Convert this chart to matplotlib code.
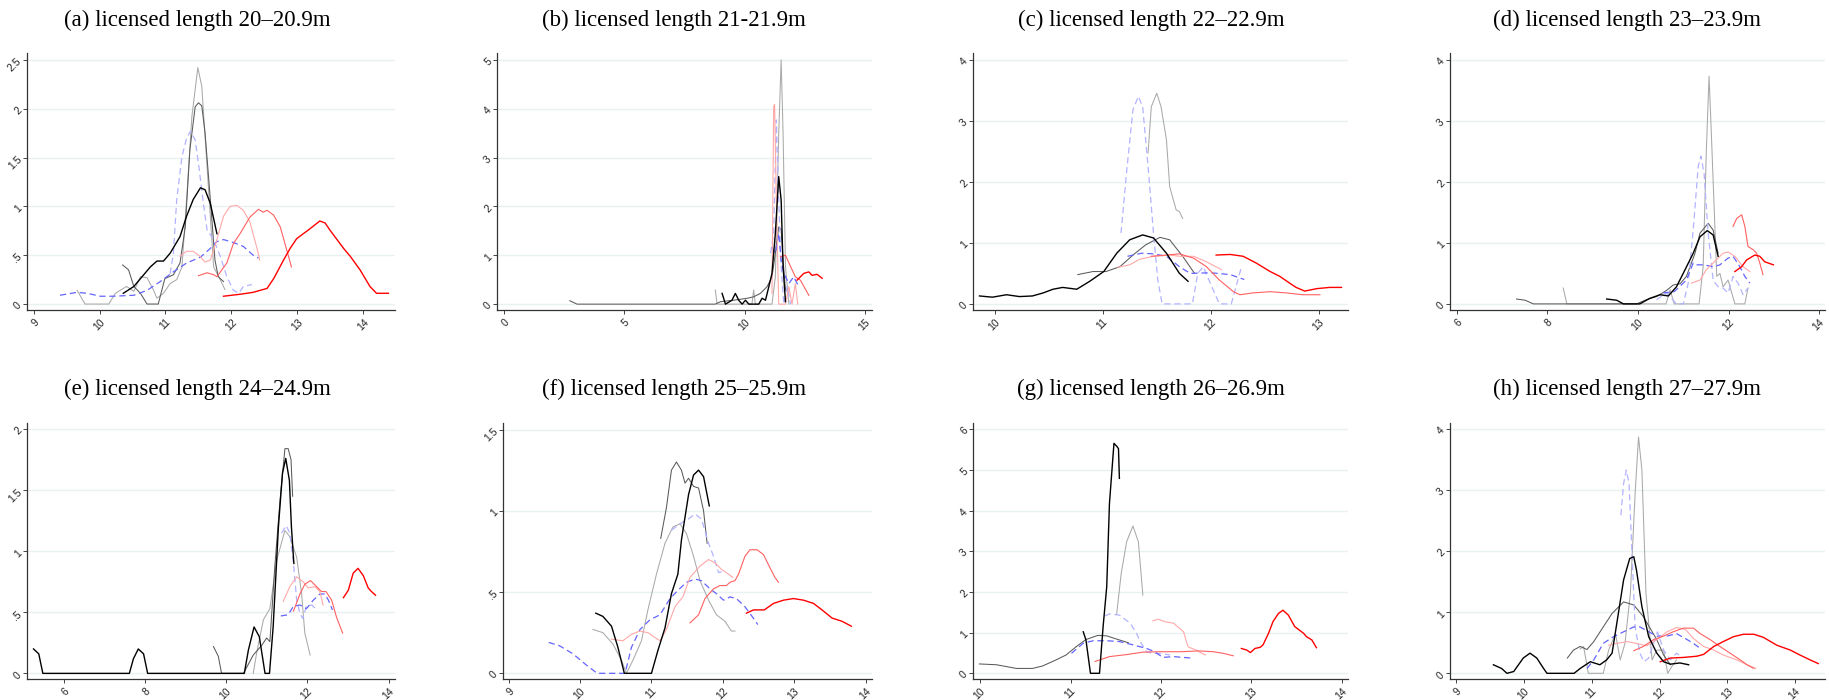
import matplotlib
matplotlib.use("Agg")
import matplotlib.pyplot as plt

# curve points (x = value, y = density), one list per line
# (a) 20-20.9m
a_red = [(11.88, .08), (12.13, .10), (12.33, .12), (12.54, .16), (12.64, .26), (12.79, .45), (12.89, .57),
         (12.99, .67), (13.17, .76), (13.34, .85), (13.42, .83), (13.49, .76), (13.70, .57), (13.80, .49),
         (13.95, .35), (14.10, .18), (14.20, .11), (14.38, .11)]
a_salmon = [(11.50, .29), (11.63, .32), (11.73, .30), (11.78, .28), (11.93, .42), (12.03, .62), (12.13, .72),
            (12.28, .89), (12.41, .97), (12.48, .94), (12.54, .96), (12.64, .91), (12.74, .79), (12.84, .55),
            (12.91, .38)]
a_pink = [(11.22, .49), (11.32, .54), (11.42, .54), (11.52, .49), (11.60, .43), (11.68, .45), (11.78, .66),
          (11.88, .90), (11.98, 1.0), (12.08, 1.01), (12.18, .96), (12.28, .84), (12.38, .59), (12.43, .45)]
a_blue = [(9.40, .09), (9.66, .12), (9.81, .11), (10.01, .08), (10.21, .08), (10.52, .09), (10.72, .14),
          (10.92, .23), (11.12, .33), (11.32, .42), (11.53, .48), (11.68, .57), (11.78, .64), (11.88, .66),
          (12.03, .63), (12.18, .59), (12.33, .50), (12.41, .47)]
a_lblue = [(11.07, .31), (11.12, .52), (11.17, 1.07), (11.25, 1.51), (11.32, 1.70), (11.38, 1.77), (11.45, 1.68),
           (11.50, 1.44), (11.58, 1.0), (11.63, .76), (11.73, .66), (11.83, .49), (11.93, .28), (12.03, .14),
           (12.11, .11), (12.18, .18), (12.31, .20)]
a_black = [(10.36, .11), (10.52, .18), (10.62, .26), (10.77, .38), (10.87, .44), (10.97, .44), (11.07, .52),
           (11.22, .69), (11.32, .90), (11.42, 1.07), (11.53, 1.19), (11.60, 1.17), (11.68, 1.03), (11.78, .72)]
a_dgray = [(10.35, .40), (10.44, .35), (10.52, .18), (10.62, .11), (10.72, 0), (10.89, 0), (10.99, .26),
           (11.12, .30), (11.22, .42), (11.30, .79), (11.37, 1.58), (11.45, 2.02), (11.50, 2.06), (11.55, 2.03),
           (11.60, 1.75), (11.68, 1.07), (11.75, .45), (11.80, .28), (11.88, .23)]
a_lgray = [(9.66, .14), (9.78, 0), (10.14, 0), (10.24, .11), (10.41, .18), (10.52, .13), (10.62, .28),
           (10.72, .27), (10.82, .14), (10.87, .06), (10.97, .11), (11.07, .21), (11.17, .25), (11.25, .38),
           (11.32, 1.07), (11.40, 1.92), (11.49, 2.42), (11.55, 2.23), (11.63, 1.41), (11.73, .38), (11.83, .25),
           (11.90, .15)]

# (b) 21-21.9m
b_dgray = [(2.74, .07), (3.04, 0), (8.78, 0), (8.99, .05), (9.54, .08), (10.10, .12), (10.37, .15), (10.65, .22),
           (10.93, .36), (11.13, .56), (11.27, 1.04), (11.41, 1.58), (11.51, 1.52), (11.59, .90), (11.69, .29)]
b_lgray = [(8.78, .29), (8.85, 0), (10.30, 0), (10.37, .29), (10.44, 0), (11.13, 0), (11.27, .56), (11.41, 3.5),
           (11.51, 5.0), (11.59, 3.5), (11.69, .77), (11.83, 0)]
b_black = [(9.06, .22), (9.20, 0), (9.47, .08), (9.61, .22), (9.75, .08), (9.89, 0), (10.03, .08), (10.17, 0),
           (10.58, 0), (10.72, .12), (10.86, .08), (11.0, .36), (11.13, .63), (11.27, 1.45), (11.41, 2.61),
           (11.51, 2.13), (11.59, .77), (11.69, .05)]
b_pink = [(11.13, .22), (11.20, 4.04), (11.24, 4.09), (11.31, 2.13), (11.41, 0), (11.69, 0), (11.83, .36),
          (11.96, 0), (12.10, .42), (12.20, 0)]
b_lblue = [(11.07, 1.04), (11.20, 1.45), (11.31, 3.77), (11.41, 2.13), (11.51, .77), (11.62, 0), (11.76, .36),
           (11.90, 0)]
b_blue = [(11.13, 1.17), (11.27, 1.04), (11.41, 1.45), (11.51, .90), (11.62, .63), (11.83, .42), (12.03, .56),
          (12.24, .36)]
b_salmon = [(11.48, .97), (11.69, 1.0), (11.90, .77), (12.10, .56), (12.31, .49), (12.66, .18)]
b_red = [(12.17, .49), (12.45, .63), (12.66, .66), (12.79, .59), (13.0, .61), (13.21, .53)]

# (c) 22-22.9m
c_black = [(9.86, .13), (9.98, .11), (10.11, .15), (10.23, .12), (10.35, .13), (10.45, .18), (10.54, .24),
           (10.63, .27), (10.76, .24), (10.88, .37), (11.01, .53), (11.13, .83), (11.25, 1.05), (11.37, 1.13),
           (11.47, 1.08), (11.59, .83), (11.71, .50), (11.79, .37)]
c_dgray = [(10.77, .48), (10.91, .53), (11.03, .53), (11.16, .61), (11.28, .80), (11.40, .97), (11.53, 1.09),
           (11.62, 1.05), (11.74, .78), (11.85, .50)]
c_lgray = [(11.42, 2.47), (11.45, 3.23), (11.50, 3.45), (11.54, 3.23), (11.59, 2.69), (11.62, 1.92),
           (11.68, 1.54), (11.71, 1.51), (11.74, 1.40)]
c_lblue = [(11.17, 1.16), (11.22, 2.14), (11.28, 3.18), (11.33, 3.40), (11.37, 3.23), (11.42, 2.25),
           (11.47, 1.16), (11.51, .39), (11.55, 0), (11.83, 0), (11.88, .50), (11.93, .61), (12.01, .28),
           (12.08, 0), (12.19, 0), (12.28, .58)]
c_blue = [(11.23, .78), (11.36, .83), (11.47, .82), (11.59, .78), (11.71, .61), (11.81, .50), (12.0, .51),
          (12.18, .48), (12.31, .40)]
c_pink = [(11.14, .60), (11.25, .64), (11.34, .73), (11.47, .78), (11.62, .80), (11.71, .78), (11.84, .78),
          (11.96, .69), (12.10, .56)]
c_salmon = [(11.45, .78), (11.59, .80), (11.71, .82), (11.84, .75), (11.96, .61), (12.08, .39), (12.21, .20),
            (12.27, .15), (12.39, .18), (12.55, .20), (12.70, .18), (12.85, .15), (13.01, .15)]
c_red = [(12.05, .80), (12.18, .81), (12.30, .78), (12.42, .67), (12.55, .53), (12.64, .45), (12.73, .34),
         (12.79, .27), (12.87, .21), (12.98, .25), (13.10, .27), (13.21, .27)]

# (d) 23-23.9m
d_dgray = [(7.32, .08), (7.51, .06), (7.69, 0), (9.97, 0), (10.19, .07), (10.41, .12), (10.63, .22),
           (10.78, .31), (10.93, .33), (11.07, .45), (11.26, .83), (11.37, 1.16), (11.55, 1.32), (11.66, 1.21),
           (11.77, .83)]
d_lgray = [(8.35, .26), (8.43, 0), (10.62, 0), (10.71, .23), (10.80, 0), (11.35, 0), (11.44, .61), (11.51, 2.52),
           (11.57, 3.73), (11.62, 2.80), (11.74, .45), (11.81, .50), (11.88, .28), (11.99, .39), (12.14, 0),
           (12.36, 0), (12.43, .26)]
d_black = [(9.31, .08), (9.53, .06), (9.68, 0), (10.04, 0), (10.26, .09), (10.49, .15), (10.67, .13),
           (10.85, .28), (11.04, .56), (11.22, .83), (11.37, 1.10), (11.53, 1.20), (11.66, 1.13), (11.77, .78)]
d_lblue = [(10.41, .07), (10.63, .18), (10.85, 0), (11.0, 0), (11.11, .34), (11.22, 1.21), (11.33, 2.25),
           (11.39, 2.42), (11.46, 2.14), (11.55, 1.16), (11.66, .39), (11.77, .28), (11.88, .26), (11.99, .18),
           (12.10, .45), (12.21, .34), (12.32, .15), (12.43, .26)]
d_blue = [(10.56, .18), (10.80, .20), (11.07, .39), (11.22, .67), (11.29, .64), (11.44, .64), (11.66, .61),
          (11.81, .64), (11.99, .75), (12.10, .78), (12.25, .61), (12.36, .45), (12.47, .34)]
d_pink = [(11.18, .34), (11.37, .39), (11.51, .56), (11.66, .67), (11.88, .83), (11.99, .85), (12.14, .78),
          (12.32, .61), (12.47, .53)]
d_salmon = [(12.10, 1.27), (12.18, 1.40), (12.29, 1.46), (12.36, 1.27), (12.43, .94), (12.54, .89),
            (12.62, .83), (12.69, .67), (12.76, .48)]
d_red = [(12.14, .53), (12.29, .61), (12.40, .72), (12.58, .80), (12.69, .78), (12.80, .69), (12.99, .64)]

# (e) 24-24.9m
e_black = [(5.26, .20), (5.39, .16), (5.49, 0), (7.62, 0), (7.72, .12), (7.84, .20), (7.97, .16), (8.07, 0),
           (10.45, 0), (10.55, .19), (10.69, .38), (10.82, .30), (10.96, 0), (11.07, 0), (11.16, .38),
           (11.29, 1.20), (11.39, 1.64), (11.47, 1.76), (11.56, 1.58), (11.61, 1.20), (11.67, .90)]
e_dgray = [(9.69, .22), (9.81, .14), (9.89, 0), (10.43, 0), (10.67, .15), (10.88, .23), (11.0, .29),
           (11.08, .26), (11.20, .87), (11.33, 1.42), (11.45, 1.84), (11.53, 1.84), (11.60, 1.75), (11.64, 1.45)]
e_lgray = [(10.67, 0), (10.75, .16), (10.92, .44), (11.08, .53), (11.25, .93), (11.45, 1.17), (11.57, 1.12),
           (11.74, .95), (11.86, .65), (11.94, .33), (12.07, .15)]
e_lblue = [(11.37, 1.15), (11.48, 1.21), (11.57, 1.15), (11.66, .90), (11.74, .60), (11.82, .49), (11.89, .45),
           (11.98, .55), (12.11, .56), (12.23, .52)]
e_blue = [(11.35, .47), (11.53, .48), (11.66, .55), (11.82, .56), (11.98, .53), (12.15, .60), (12.31, .65),
          (12.43, .65), (12.52, .60), (12.62, .52)]
e_pink = [(11.41, .59), (11.57, .71), (11.74, .79), (11.90, .75), (12.02, .70), (12.19, .71), (12.31, .67),
          (12.39, .56)]
e_salmon = [(11.66, .51), (11.82, .65), (11.94, .73), (12.08, .76), (12.23, .71), (12.35, .67), (12.46, .67),
            (12.60, .60), (12.72, .46), (12.87, .33)]
e_red = [(12.89, .62), (13.01, .68), (13.13, .82), (13.25, .86), (13.38, .80), (13.50, .70), (13.58, .67),
         (13.68, .64)]

# (f) 25-25.9m
f_black = [(10.22, .37), (10.32, .35), (10.44, .29), (10.53, .16), (10.62, 0), (11.0, 0), (11.09, .14),
           (11.19, .28), (11.28, .49), (11.37, .61), (11.42, .82), (11.52, 1.10), (11.59, 1.22), (11.66, 1.25),
           (11.73, 1.21), (11.81, 1.03)]
f_dgray = [(11.13, .83), (11.21, 1.02), (11.28, 1.25), (11.35, 1.30), (11.42, 1.25), (11.47, 1.17),
           (11.52, 1.20), (11.59, 1.15), (11.66, 1.14), (11.73, 1.0), (11.78, .80)]
f_lgray = [(10.18, .27), (10.32, .25), (10.46, .18), (10.58, .08), (10.65, 0), (10.74, .08), (10.86, .20),
           (10.95, .39), (11.07, .61), (11.19, .80), (11.30, .90), (11.40, .92), (11.49, .86), (11.59, .72),
           (11.68, .57), (11.80, .45), (11.91, .36), (12.03, .32), (12.12, .26), (12.17, .26)]
f_lblue = [(11.28, .88), (11.40, .92), (11.52, .95), (11.61, .98), (11.70, .95), (11.80, .80), (11.87, .72),
           (11.94, .62), (12.03, .63)]
f_blue = [(9.56, .19), (9.71, .17), (9.90, .12), (10.09, .05), (10.24, 0), (10.63, 0), (10.72, .16),
          (10.84, .27), (10.98, .33), (11.12, .36), (11.26, .46), (11.37, .51), (11.49, .56), (11.61, .58),
          (11.70, .57), (11.82, .52), (11.91, .49), (12.01, .45), (12.10, .47), (12.19, .46), (12.31, .41),
          (12.41, .35), (12.49, .30)]
f_pink = [(10.44, .21), (10.60, .20), (10.72, .24), (10.84, .26), (10.95, .25), (11.05, .22), (11.12, .20),
          (11.21, .27), (11.33, .41), (11.44, .47), (11.54, .59), (11.68, .66), (11.80, .70), (11.89, .68),
          (11.98, .64), (12.08, .61), (12.14, .59)]
f_salmon = [(11.54, .31), (11.66, .36), (11.75, .46), (11.87, .52), (11.96, .54), (12.05, .54), (12.10, .56),
            (12.17, .57), (12.22, .61), (12.31, .72), (12.38, .76), (12.48, .76), (12.57, .73), (12.66, .65),
            (12.73, .59), (12.78, .56)]
f_red = [(12.33, .37), (12.43, .39), (12.58, .39), (12.71, .43), (12.85, .45), (12.99, .46), (13.13, .45),
         (13.27, .43), (13.39, .39), (13.53, .34), (13.67, .32), (13.80, .29)]

# (g) 26-26.9m
g_dgray = [(9.99, .23), (10.18, .21), (10.40, .12), (10.58, .12), (10.69, .18), (10.84, .33), (10.95, .45),
           (11.06, .65), (11.17, .83), (11.30, .93), (11.40, .92), (11.51, .84), (11.64, .75)]
g_black = [(11.14, 1.02), (11.17, .82), (11.22, 0), (11.32, 0), (11.36, 1.15), (11.40, 2.13), (11.43, 4.17),
           (11.48, 5.65), (11.51, 5.58), (11.53, 5.52), (11.54, 4.79)]
g_lgray = [(11.51, 1.46), (11.56, 2.45), (11.62, 3.23), (11.69, 3.62), (11.75, 3.23), (11.80, 1.92)]
g_lblue = [(11.38, 1.41), (11.43, 1.46), (11.54, 1.43), (11.66, 1.23), (11.73, .98), (11.78, .74),
           (11.84, .53), (11.91, .49), (12.02, .48), (12.10, .45)]
g_blue = [(11.01, .49), (11.14, .74), (11.25, .80), (11.40, .80), (11.54, .78), (11.69, .70), (11.84, .61),
          (11.93, .53), (12.02, .39), (12.14, .41), (12.25, .39), (12.36, .37)]
g_pink = [(11.91, 1.29), (11.97, 1.33), (12.04, 1.27), (12.14, 1.23), (12.25, 1.02), (12.30, .65),
          (12.39, .57), (12.49, .45)]
g_salmon = [(11.27, .29), (11.43, .41), (11.62, .46), (11.80, .52), (11.99, .53), (12.21, .53), (12.43, .55),
            (12.58, .53), (12.69, .49), (12.80, .43)]
g_red = [(12.89, .61), (12.95, .57), (12.99, .51), (13.04, .61), (13.10, .64), (13.13, .70), (13.19, .98),
         (13.24, 1.27), (13.30, 1.47), (13.35, 1.55), (13.41, 1.43), (13.48, 1.15), (13.52, 1.08), (13.58, .98),
         (13.61, .90), (13.67, .82), (13.72, .63)]

# (h) 27-27.9m
h_black = [(9.55, .14), (9.67, .08), (9.75, 0), (9.85, .03), (9.99, .25), (10.09, .33), (10.19, .25),
           (10.29, .08), (10.34, 0), (10.74, 0), (10.83, .08), (10.98, .19), (11.12, .14), (11.22, .22),
           (11.30, .33), (11.37, .82), (11.47, 1.53), (11.56, 1.88), (11.62, 1.91), (11.66, 1.69), (11.74, 1.09),
           (11.84, .60), (11.96, .33), (12.06, .19), (12.16, .15), (12.30, .17), (12.43, .14)]
h_dgray = [(10.64, .25), (10.73, .38), (10.83, .44), (10.93, .39), (11.03, .52), (11.17, .76), (11.30, .98),
           (11.47, 1.17), (11.62, 1.12), (11.76, .93), (11.86, .74), (11.96, .55), (12.06, .30), (12.16, .14)]
h_lgray = [(10.83, .40), (10.88, .44), (10.95, 0), (11.17, 0), (11.25, .38), (11.35, .65), (11.42, .22),
           (11.49, .49), (11.57, 1.31), (11.64, 2.95), (11.69, 3.87), (11.74, 3.33), (11.80, 1.31), (11.89, .22),
           (11.96, .38), (12.06, .38), (12.12, 0), (12.18, .11), (12.25, .22)]
h_lblue = [(11.43, 2.59), (11.47, 3.11), (11.51, 3.33), (11.55, 3.11), (11.59, 2.07), (11.64, .76), (11.71, .33),
           (11.77, .19), (11.84, .25), (11.91, .49), (11.97, .68), (12.06, .38), (12.16, .22), (12.25, .33),
           (12.33, .27)]
h_blue = [(10.93, .08), (11.03, .22), (11.17, .49), (11.32, .60), (11.47, .68), (11.62, .76), (11.71, .76),
          (11.84, .68), (11.96, .61), (12.11, .61), (12.25, .65), (12.38, .57), (12.50, .49), (12.60, .41)]
h_pink = [(11.25, .46), (11.37, .49), (11.52, .52), (11.66, .49), (11.81, .45), (11.96, .55), (12.11, .68),
          (12.25, .75), (12.38, .72), (12.50, .57), (12.65, .44), (12.80, .38), (12.94, .30), (13.14, .22),
          (13.29, .14), (13.42, .08)]
h_salmon = [(11.62, .37), (11.76, .44), (11.91, .55), (12.06, .61), (12.20, .68), (12.35, .74), (12.50, .74),
            (12.60, .65), (12.75, .55), (12.89, .44), (13.04, .33), (13.19, .22), (13.29, .14), (13.39, .08)]
h_red = [(12.01, .19), (12.16, .25), (12.35, .26), (12.55, .28), (12.65, .31), (12.80, .44), (12.94, .52),
         (13.09, .60), (13.24, .64), (13.39, .64), (13.53, .59), (13.73, .46), (13.93, .38), (14.07, .30),
         (14.22, .22), (14.34, .16)]

titles = ["(a) licensed length 20\u201320.9m", "(b) licensed length 21-21.9m",
          "(c) licensed length 22\u201322.9m", "(d) licensed length 23\u201323.9m",
          "(e) licensed length 24\u201324.9m", "(f) licensed length 25\u201325.9m",
          "(g) licensed length 26\u201326.9m", "(h) licensed length 27\u201327.9m"]
xticks = [[9, 10, 11, 12, 13, 14], [0, 5, 10, 15], [10, 11, 12, 13], [6, 8, 10, 12, 14],
          [6, 8, 10, 12, 14], [9, 10, 11, 12, 13, 14], [10, 11, 12, 13, 14], [9, 10, 11, 12, 13, 14]]
yticks = [[0, .5, 1, 1.5, 2, 2.5], [0, 1, 2, 3, 4, 5], [0, 1, 2, 3, 4], [0, 1, 2, 3, 4],
          [0, .5, 1, 1.5, 2], [0, .5, 1, 1.5], [0, 1, 2, 3, 4, 5, 6], [0, 1, 2, 3, 4]]

# line styles (stata-ish scheme)
styles = {
    "lgray":  dict(color="#a9a9a9", lw=0.75, ls="-"),
    "dgray":  dict(color="#5a5a5a", lw=0.75, ls="-"),
    "lblue":  dict(color="#b3b3ff", lw=0.9, ls=(0, (5, 3))),
    "blue":   dict(color="#6464ff", lw=0.9, ls=(0, (5, 3))),
    "pink":   dict(color="#ffa8a8", lw=0.8, ls="-"),
    "salmon": dict(color="#ff6060", lw=0.8, ls="-"),
    "red":    dict(color="#ff0000", lw=1.0, ls="-"),
    "black":  dict(color="#000000", lw=1.0, ls="-"),
}

g = globals()
W, H = 1829, 700
cols_top = [(27, 395), (497, 872), (973, 1348), (1450, 1825)]
cols_bot = [(27, 395), (503, 872), (973, 1348), (1450, 1825)]
rows = [(53, 310), (423, 679)]
title_x = [197, 674, 1151, 1627]
title_y = [20, 389]
# axis limits so that the axis lines sit where the reference draws them
xlims = [(8.90, 14.48), (-0.28, 15.28), (9.80, 13.27), (5.85, 14.13),
         (5.10, 14.16), (8.92, 14.09), (9.92, 14.07), (8.91, 14.44)]
ylims = [(-0.061, 2.57), (-0.12, 5.14), (-0.10, 4.11), (-0.10, 4.11),
         (-0.046, 2.05), (-0.035, 1.54), (-0.14, 6.15), (-0.093, 4.10)]


def stata_fmt(v):
    s = ("%g" % v)
    if s.startswith("0."):
        s = s[1:]
    return s


fig = plt.figure(figsize=(W / 100, H / 100), dpi=100)

for i, letter in enumerate("abcdefgh"):
    r, c = divmod(i, 4)
    x0, x1 = (cols_top if r == 0 else cols_bot)[c]
    y0, y1 = rows[r]
    ax = fig.add_axes([x0 / W, 1 - y1 / H, (x1 - x0) / W, (y1 - y0) / H])

    for name in ["lgray", "dgray", "lblue", "blue", "pink", "salmon", "red", "black"]:
        pts = g[letter + "_" + name]
        xs = [p[0] for p in pts]
        ys = [p[1] for p in pts]
        st = styles[name]
        ax.plot(xs, ys, color=st["color"], lw=st["lw"], linestyle=st["ls"], zorder=3)

    ax.set_xlim(*xlims[i])
    ax.set_ylim(*ylims[i])
    ax.set_xticks(xticks[i])
    ax.set_yticks(yticks[i])
    ax.set_xticklabels([stata_fmt(v) for v in xticks[i]], rotation=45, ha="right", va="top",
                       rotation_mode="anchor", family="Liberation Sans")
    ax.set_yticklabels([stata_fmt(v) for v in yticks[i]], rotation=45, ha="right", va="center",
                       rotation_mode="anchor", family="Liberation Sans")
    ax.tick_params(axis="both", labelsize=7.5, length=3, width=0.7, color="#444444",
                   labelcolor="#222222", pad=2)
    ax.grid(axis="y", color="#eaf1f2", lw=1.0, zorder=0)
    ax.set_axisbelow(True)
    for side in ["top", "right"]:
        ax.spines[side].set_visible(False)
    for side in ["left", "bottom"]:
        ax.spines[side].set_color("#333333")
        ax.spines[side].set_linewidth(0.9)

    fig.text(title_x[c] / W, 1 - title_y[r] / H, titles[i], ha="center", va="center",
             fontsize=16.5, family="Liberation Serif")

fig.savefig("out.png", dpi=100, facecolor="white")
